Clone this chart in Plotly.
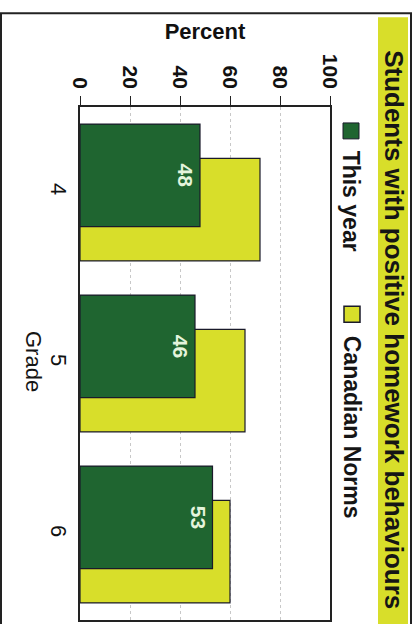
import plotly.graph_objects as go

grades = ["4", "5", "6"]
this_year = [48, 46, 53]
canadian_norms = [72, 66, 60]
value_ticks = [0, 20, 40, 60, 80, 100]
title_text = "Students with positive homework behaviours"
series_names = ["This year", "Canadian Norms"]

DARK = "#1f6530"
YEL = "#d8de2a"
FONT = "Liberation Sans"

W, H = 419, 626
L, R, T, B = 80, 330, 107, 622


def pxx(p):
    return (p - L) / (R - L)


def pxy(p):
    return (B - p) / (B - T)


fig = go.Figure()
fig.add_trace(go.Bar(
    y=grades, x=canadian_norms, orientation="h", name=series_names[1],
    width=0.6, offset=-0.2,
    marker=dict(color=YEL, line=dict(color="#1a1a2a", width=1.2)),
    showlegend=False, hoverinfo="skip"))
fig.add_trace(go.Bar(
    y=grades, x=this_year, orientation="h", name=series_names[0],
    width=0.6, offset=-0.4,
    marker=dict(color=DARK, line=dict(color="#1a1a2a", width=1.2)),
    text=[str(v) for v in this_year], textposition="inside",
    insidetextanchor="end", textangle=90,
    textfont=dict(family=FONT, size=21, color="#e4f4dc", weight="bold"),
    showlegend=False, hoverinfo="skip"))

fig.update_layout(
    width=W, height=H, barmode="overlay",
    margin=dict(l=L, r=W - R, t=T, b=H - B),
    paper_bgcolor="white", plot_bgcolor="white",
    font=dict(family=FONT, color="#111"),
    xaxis=dict(
        side="top", range=[0, 100], tickvals=value_ticks,
        tickangle=90, ticks="outside", ticklen=9, tickcolor="#222",
        tickfont=dict(family=FONT, size=21, weight="bold", color="#111"),
        showline=True, linecolor="#222", linewidth=1.5, mirror=True,
        showgrid=True, gridcolor="#c8c8c8", griddash="dot", gridwidth=1,
        zeroline=False,
        title=dict(text="Percent", standoff=8,
                   font=dict(family=FONT, size=22, weight="bold", color="#111")),
    ),
    yaxis=dict(
        type="category", categoryorder="array", categoryarray=grades,
        range=[2.5, -0.5], tickangle=90, ticks="", ticklabelstandoff=1,
        tickfont=dict(family=FONT, size=22, color="#111"),
        showline=True, linecolor="#222", linewidth=1.5, mirror=True,
        showgrid=False, zeroline=False,
    ),
)

shapes = []
# outer frame lines
shapes.append(dict(type="line", xref="paper", yref="paper",
                   x0=pxx(0), x1=pxx(412), y0=pxy(13), y1=pxy(13),
                   line=dict(color="#222", width=2)))
shapes.append(dict(type="line", xref="paper", yref="paper",
                   x0=pxx(1), x1=pxx(1), y0=pxy(13), y1=pxy(626),
                   line=dict(color="#222", width=2)))
shapes.append(dict(type="line", xref="paper", yref="paper",
                   x0=pxx(411), x1=pxx(411), y0=pxy(13), y1=pxy(626),
                   line=dict(color="#222", width=2)))
# yellow title box
shapes.append(dict(type="rect", xref="paper", yref="paper",
                   x0=pxx(378), x1=pxx(408), y0=pxy(626), y1=pxy(17),
                   fillcolor=YEL, line=dict(width=0), layer="below"))
# legend markers
shapes.append(dict(type="rect", xref="paper", yref="paper",
                   x0=pxx(343), x1=pxx(359), y0=pxy(139), y1=pxy(123),
                   fillcolor=DARK, line=dict(color="#1a1a2a", width=1)))
shapes.append(dict(type="rect", xref="paper", yref="paper",
                   x0=pxx(344), x1=pxx(360), y0=pxy(323), y1=pxy(307),
                   fillcolor=YEL, line=dict(color="#1a1a2a", width=1.5)))
fig.update_layout(shapes=shapes)

ann = []
ann.append(dict(text=title_text, textangle=90, xref="paper", yref="paper",
                x=pxx(394), y=pxy(330), xanchor="center", yanchor="middle",
                showarrow=False,
                font=dict(family=FONT, size=26, weight="bold", color="#151515")))
ann.append(dict(text=series_names[0], textangle=90, xref="paper", yref="paper",
                x=pxx(351), y=pxy(201), xanchor="center", yanchor="middle",
                showarrow=False,
                font=dict(family=FONT, size=23, weight="bold", color="#151515")))
ann.append(dict(text=series_names[1], textangle=90, xref="paper", yref="paper",
                x=pxx(352), y=pxy(428), xanchor="center", yanchor="middle",
                showarrow=False,
                font=dict(family=FONT, size=23, weight="bold", color="#151515")))
ann.append(dict(text="Grade", textangle=90, xref="paper", yref="paper",
                x=pxx(34), y=pxy(362), xanchor="center", yanchor="middle",
                showarrow=False,
                font=dict(family=FONT, size=22, color="#151515")))
fig.update_layout(annotations=ann)

fig.write_html("out.html")
